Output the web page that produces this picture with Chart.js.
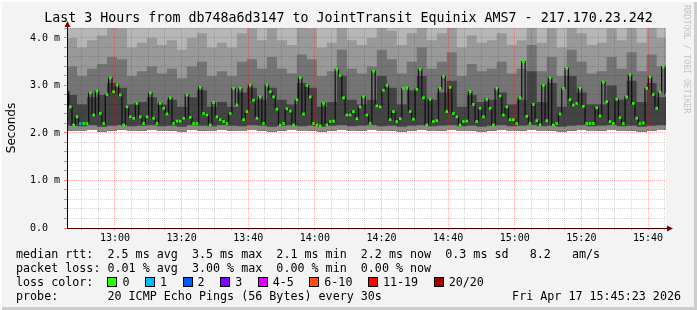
<!DOCTYPE html>
<html lang="en">
<head>
<meta charset="UTF-8" />
<title>SmokePing - db748a6d3147 to JointTransit Equinix AMS7</title>
<script src="https://cdn.jsdelivr.net/npm/chart.js"></script>
<style>
  body { margin: 0; background: #fff; }
  .grafico {
    position: relative;
    width: 697px;
    height: 310px;
    background: #f3f3f3;
    box-shadow: inset 2px 2px 0 #fcfcfc, inset -3px -3px 0 #cdcdcd;
    font-family: 'DejaVu Sans Mono', monospace;
    color: #000;
    overflow: hidden;
  }
  canvas { position: absolute; left: 0; top: 0; }
  .leyenda {
    position: absolute; left: 16px; top: 247px;
    font-size: 11.7px; line-height: 14px; white-space: pre;
  }
  .fecha {
    position: absolute; right: 16px; top: 289px;
    font-size: 11.7px; line-height: 14px; white-space: pre;
  }
  .caja {
    display: inline-block; width: 8px; height: 8px;
    border: 1px solid #000; vertical-align: -1px; margin-right: 5px;
  }
  .item { margin-right: 15.5px; }
  .marca {
    position: absolute; left: 682px; top: 5px;
    writing-mode: vertical-rl; font-size: 8.2px; color: #c4c4c4;
  }
</style>
</head>
<body>

<div class="grafico">
  <canvas id="smoke" width="697" height="310"></canvas>
  <div class="marca">RRDTOOL / TOBI OETIKER</div>
  <div class="leyenda" id="leyenda"></div>
  <div class="fecha">Fri Apr 17 15:45:23 2026</div>
</div>

<script>
  // tiempo en minutos desde las 12:00
  const xMin = 45.6;
  const xMax = 225.4;
  const t0 = 45.6;

  // mediana por minuto (ms)
  const medianMs = [
    2.88, 2.55, 2.17, 2.34, 2.20, 2.20, 2.20, 2.84, 2.38, 2.88,
    2.41, 2.20, 2.81, 3.16, 2.87, 3.01, 2.80, 2.17, 2.55, 2.34,
    2.31, 2.62, 2.34, 2.20, 2.34, 2.84, 2.31, 2.20, 2.62, 2.52,
    2.40, 2.74, 2.20, 2.25, 2.25, 2.31, 2.80, 2.33, 2.20, 2.20,
    2.96, 2.41, 2.38, 2.17, 2.64, 2.34, 2.28, 2.24, 2.20, 2.41,
    2.94, 2.59, 2.94, 2.28, 2.45, 3.01, 2.69, 2.31, 2.76, 2.20,
    3.01, 2.87, 2.76, 2.50, 2.17, 2.20, 2.51, 2.46, 2.17, 2.70,
    3.16, 2.40, 3.00, 2.76, 2.20, 2.17, 2.15, 2.62, 2.17, 2.24,
    2.25, 3.34, 3.21, 2.74, 2.38, 2.38, 2.45, 2.30, 2.55, 2.76,
    2.38, 2.20, 3.30, 2.57, 2.55, 2.90, 3.00, 2.28, 2.45, 2.24,
    2.30, 2.94, 2.95, 2.45, 2.29, 2.92, 3.34, 2.74, 2.17, 2.71,
    2.24, 2.26, 2.94, 3.19, 2.45, 2.96, 2.41, 2.34, 2.17, 2.24,
    2.25, 2.87, 2.60, 2.24, 2.52, 2.34, 2.71, 2.52, 2.17, 2.94,
    2.78, 2.38, 2.55, 2.28, 2.28, 2.20, 2.74, 3.50, 2.35, 2.20,
    2.60, 2.26, 2.17, 3.00, 2.26, 3.16, 2.17, 2.20, 2.40, 2.94,
    3.36, 2.70, 2.59, 2.62, 2.94, 2.56, 2.20, 2.20, 2.20, 2.53,
    2.36, 3.07, 2.66, 2.24, 2.20, 2.71, 2.32, 2.20, 2.76, 3.22,
    2.62, 2.31, 2.20, 2.21, 2.94, 3.18, 2.81, 2.52, 2.86, 3.39,
    2.82
  ];
  // muestras con perdida de 1/20
  const lossIdx = [4];

  // humo, cada 3 minutos (ms)
  const smokeFloor = [
    2.05, 2.04, 2.06, 2.03, 2.05, 2.07, 2.04, 2.05, 2.06, 2.04,
    2.05, 2.03, 2.06, 2.05, 2.04, 2.06, 2.05, 2.04, 2.06, 2.05,
    2.03, 2.05, 2.06, 2.04, 2.05, 2.03, 2.05, 2.06, 2.04, 2.05,
    2.06, 2.04, 2.05, 2.03, 2.05, 2.06, 2.04, 2.05, 2.06, 2.04,
    2.05, 2.03, 2.05, 2.06, 2.04, 2.05, 2.06, 2.04, 2.05, 2.03,
    2.05, 2.06, 2.04, 2.05, 2.06, 2.04, 2.05, 2.03, 2.05, 2.06,
    2.04
  ];
  const smokeLow = [
    2.15, 2.14, 2.16, 2.13, 2.15, 2.17, 2.14, 2.15, 2.16, 2.14,
    2.15, 2.13, 2.16, 2.15, 2.14, 2.16, 2.15, 2.14, 2.16, 2.15,
    2.13, 2.15, 2.16, 2.14, 2.15, 2.13, 2.15, 2.16, 2.14, 2.15,
    2.16, 2.14, 2.15, 2.13, 2.15, 2.16, 2.14, 2.15, 2.16, 2.14,
    2.15, 2.13, 2.15, 2.16, 2.14, 2.15, 2.16, 2.14, 2.15, 2.13,
    2.15, 2.16, 2.14, 2.15, 2.16, 2.14, 2.15, 2.13, 2.15, 2.16,
    2.14
  ];
  const smokeDark = [
    2.80, 2.60, 2.75, 2.80, 3.05, 2.95, 2.60, 2.65, 2.75, 2.60,
    2.70, 2.55, 2.75, 2.90, 2.55, 2.65, 2.55, 2.85, 2.95, 2.70,
    2.95, 2.70, 2.60, 3.05, 2.95, 2.55, 2.65, 3.20, 2.70, 2.60,
    2.70, 3.20, 2.95, 2.60, 2.90, 3.20, 2.70, 2.85, 3.10, 2.55,
    2.80, 2.65, 2.70, 2.85, 2.60, 2.70, 3.30, 2.65, 3.05, 2.55,
    3.20, 2.85, 2.60, 2.60, 3.00, 2.70, 3.10, 2.65, 3.05, 2.75,
    3.25
  ];
  const smokeMid = [
    3.40, 3.20, 3.35, 3.45, 3.60, 3.55, 3.20, 3.30, 3.40, 3.25,
    3.35, 3.15, 3.40, 3.50, 3.20, 3.30, 3.20, 3.50, 3.55, 3.35,
    3.60, 3.35, 3.25, 3.65, 3.55, 3.20, 3.30, 3.75, 3.35, 3.25,
    3.40, 3.75, 3.55, 3.25, 3.50, 3.80, 3.35, 3.50, 3.70, 3.20,
    3.45, 3.30, 3.35, 3.50, 3.25, 3.35, 3.85, 3.30, 3.60, 3.20,
    3.75, 3.50, 3.25, 3.30, 3.60, 3.35, 3.70, 3.30, 3.65, 3.40,
    3.80
  ];
  const smokeLight = [
    4.00, 3.80, 3.95, 4.05, 4.30, 4.20, 3.80, 3.90, 4.00, 3.85,
    3.95, 3.75, 4.00, 4.10, 3.80, 3.90, 3.80, 4.10, 4.20, 3.95,
    4.20, 3.95, 3.85, 4.30, 4.20, 3.80, 3.90, 4.30, 3.95, 3.85,
    4.00, 4.30, 4.15, 3.85, 4.10, 4.30, 3.95, 4.10, 4.30, 3.80,
    4.05, 3.90, 3.95, 4.10, 3.85, 3.95, 4.30, 3.90, 4.20, 3.80,
    4.30, 4.10, 3.85, 3.90, 4.20, 3.95, 4.30, 3.90, 4.25, 4.00,
    4.30
  ];

  const lossLabels = ['0', '1', '2', '3', '4-5', '6-10', '11-19', '20/20'];
  const lossColors = ['#26ff00', '#00b8ff', '#0059ff', '#7e00ff', '#dd00ff', '#ff5500', '#ff0000', '#a10000'];

  const statsLines = [
    'median rtt:  2.5 ms avg  3.5 ms max  2.1 ms min  2.2 ms now  0.3 ms sd   8.2   am/s',
    'packet loss: 0.01 % avg  3.00 % max  0.00 % min  0.00 % now'
  ];
  const probeText = 'probe:       20 ICMP Echo Pings (56 Bytes) every 30s';

  // leyenda de texto
  const leyenda = document.getElementById('leyenda');
  leyenda.innerHTML = statsLines.join('\n') + '\nloss color:  ' +
    lossLabels.map((l, i) => `<span class="item"><span class="caja" style="background:${lossColors[i]}"></span>${l}</span>`).join('') +
    '\n' + probeText;

  const mono = "'DejaVu Sans Mono', monospace";
  const esMayorX = c => c.tick && c.tick.value % 20 === 0;
  const esMayorY = c => c.tick && Math.abs(c.tick.value - Math.round(c.tick.value)) < 1e-9;

  const banda = (label, vals, fill, color, order) => ({
    label,
    data: vals.map((v, k) => ({ x: t0 + 3 * k, y: v })),
    stepped: true,
    fill,
    backgroundColor: color,
    borderWidth: 0,
    pointRadius: 0,
    order
  });

  const plotFrame = {
    id: 'plotFrame',
    beforeDraw(chart) {
      const { ctx, chartArea: a } = chart;
      ctx.save();
      ctx.fillStyle = '#fff';
      ctx.fillRect(a.left, a.top, a.right - a.left, a.bottom - a.top);
      ctx.restore();
    },
    afterDraw(chart) {
      const { ctx, chartArea: a } = chart;
      ctx.save();
      ctx.strokeStyle = '#000';
      ctx.lineWidth = 1;
      ctx.beginPath();
      ctx.moveTo(a.left + 0.5, a.top); ctx.lineTo(a.left + 0.5, a.top - 2);
      ctx.moveTo(a.right, a.bottom + 0.5); ctx.lineTo(a.right + 2, a.bottom + 0.5);
      ctx.stroke();
      ctx.fillStyle = '#800000';
      ctx.beginPath();
      ctx.moveTo(a.left + 0.5, a.top - 7); ctx.lineTo(a.left - 2.5, a.top - 1); ctx.lineTo(a.left + 3.5, a.top - 1);
      ctx.closePath(); ctx.fill();
      ctx.beginPath();
      ctx.moveTo(a.right + 7, a.bottom + 0.5); ctx.lineTo(a.right + 1, a.bottom - 2.5); ctx.lineTo(a.right + 1, a.bottom + 3.5);
      ctx.closePath(); ctx.fill();
      ctx.restore();
    }
  };

  new Chart(document.getElementById('smoke').getContext('2d'), {
    type: 'line',
    data: {
      datasets: [
        {
          label: 'median rtt',
          data: medianMs.map((v, i) => ({ x: t0 + i, y: v })),
          stepped: 'middle',
          fill: false,
          borderColor: '#111',
          borderWidth: 1.3,
          pointStyle: 'rect',
          pointRadius: 1.9,
          pointBorderWidth: 0,
          pointBackgroundColor: medianMs.map((v, i) => lossIdx.includes(i) ? lossColors[1] : lossColors[0]),
          order: 1
        },
        banda('smoke floor', smokeFloor, 'end', '#b6b6b6', 10),
        banda('smoke light', smokeLight, 1, '#999999', 9),
        banda('smoke mid', smokeMid, 1, '#747474', 8),
        banda('smoke dark', smokeDark, 1, '#444444', 7),
        banda('smoke low', smokeLow, 1, '#888888', 6)
      ]
    },
    options: {
      responsive: false,
      animation: false,
      layout: { padding: 0 },
      plugins: {
        legend: { display: false },
        tooltip: { enabled: false },
        title: {
          display: true,
          text: 'Last 3 Hours from db748a6d3147 to JointTransit Equinix AMS7 - 217.170.23.242',
          color: '#000',
          font: { family: mono, size: 13.3, weight: 'normal' },
          padding: { top: 11, bottom: 1 }
        }
      },
      scales: {
        x: {
          type: 'linear',
          min: xMin,
          max: xMax,
          bounds: 'data',
          afterBuildTicks: s => {
            const t = [];
            for (let v = Math.ceil(s.min / 5) * 5; v <= s.max; v += 5) t.push({ value: v });
            s.ticks = t;
          },
          afterFit: s => { s.height = 82; },
          grid: {
            z: 1,
            color: c => esMayorX(c) ? 'rgba(255,0,0,0.3)' : 'rgba(0,0,0,0.16)',
            tickColor: c => esMayorX(c) ? 'rgba(255,0,0,0.5)' : 'rgba(0,0,0,0.3)',
            tickLength: 2
          },
          border: { z: 1, color: '#000', width: 1, dash: [1, 1] },
          ticks: {
            autoSkip: false,
            maxRotation: 0,
            minRotation: 0,
            padding: 2,
            color: '#000',
            font: { family: mono, size: 10 },
            callback: v => {
              if (v % 20 !== 0) return '';
              const h = 12 + Math.floor(v / 60);
              return h + ':' + String(v % 60).padStart(2, '0');
            }
          }
        },
        y: {
          type: 'linear',
          min: 0,
          max: 4.21,
          bounds: 'data',
          afterBuildTicks: s => {
            const t = [];
            for (let i = 0; i / 5 <= s.max; i++) t.push({ value: i / 5 });
            s.ticks = t;
          },
          afterFit: s => { s.width = 67; },
          grid: {
            z: 1,
            color: c => esMayorY(c) ? 'rgba(255,0,0,0.3)' : 'rgba(0,0,0,0.16)',
            tickColor: c => esMayorY(c) ? 'rgba(255,0,0,0.5)' : 'rgba(0,0,0,0.35)',
            tickLength: 3
          },
          border: { z: 1, color: '#000', width: 1, dash: [1, 1] },
          title: {
            display: true,
            text: 'Seconds',
            color: '#000',
            font: { family: "'DejaVu Sans', sans-serif", size: 12 },
            padding: { top: 5, bottom: 0 }
          },
          ticks: {
            autoSkip: false,
            padding: 4,
            color: '#000',
            font: { family: mono, size: 10 },
            callback: v => {
              if (Math.abs(v - Math.round(v)) > 1e-9) return '';
              return v === 0 ? '0.0  ' : v.toFixed(1) + ' m';
            }
          }
        },
        derecha: {
          type: 'linear',
          position: 'right',
          grid: { display: false, drawTicks: false },
          border: { display: false },
          ticks: { display: false },
          afterFit: s => { s.width = 31; }
        }
      }
    },
    plugins: [plotFrame]
  });
</script>

</body>
</html>
